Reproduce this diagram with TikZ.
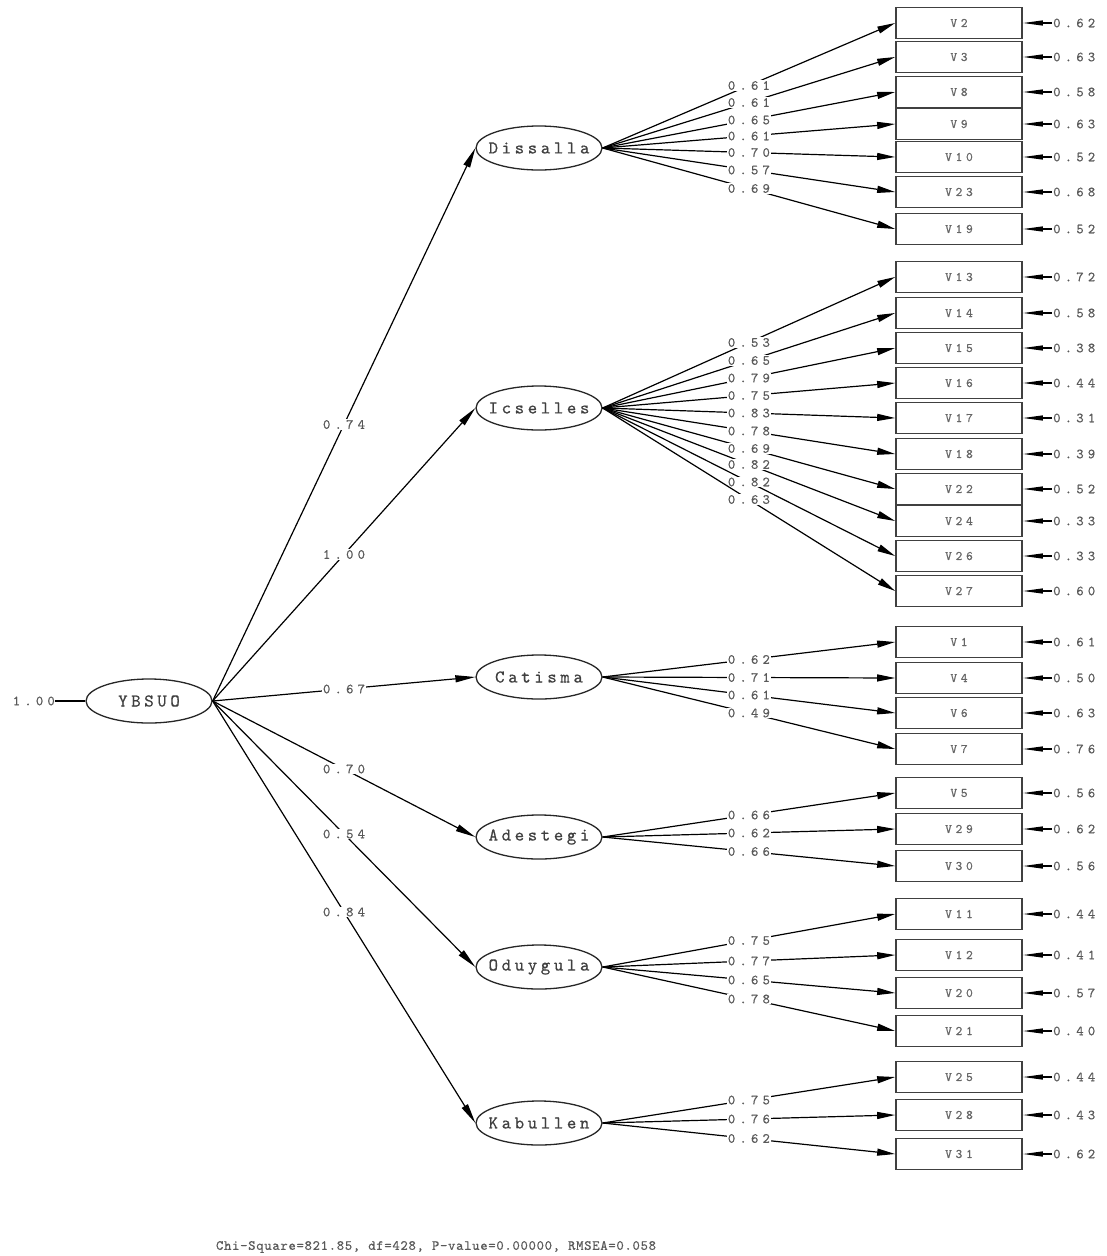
\documentclass[tikz,border=0pt]{standalone}
\usepackage{fontspec}
\usepackage{tikz}
\usetikzlibrary{shapes.geometric,arrows.meta,positioning}
\newfontfamily\coeffont[LetterSpace=30,FakeBold=0.5]{lmmono10-regular.otf}
\newfontfamily\boxfont[LetterSpace=28,FakeBold=0.5]{lmmono10-regular.otf}
\newfontfamily\latfont[LetterSpace=20,FakeBold=0.5]{lmmono10-regular.otf}
\newfontfamily\fitfont[LetterSpace=5,FakeBold=0.5]{lmmono10-regular.otf}
\newcommand{\lv}[1]{\makebox[0pt]{#1}}
\tikzset{
  latent/.style={ellipse, draw=black!85, line width=1.3pt, minimum width=126pt, minimum height=44pt, inner sep=0pt, text=black!75, font=\latfont\fontsize{18}{20}\selectfont},
  obs/.style={rectangle, draw=black!75, line width=1.7pt, minimum width=126pt, minimum height=31pt, inner sep=0pt, text=black!60, font=\boxfont\fontsize{13}{15}\selectfont},
  coef/.style={fill=white, inner sep=1pt, text=black!65, font=\coeffont\fontsize{14}{16}\selectfont},
  errlab/.style={coef, anchor=west},
  loadline/.style={line width=1.2pt, -{Triangle[length=18pt,width=7pt]}},
  errline/.style={line width=1.2pt, -{Triangle[length=20pt,width=5pt]}},
  fitnote/.style={text=black!65, font=\fitfont\fontsize{14}{16}\selectfont}
}
\begin{document}
\begin{tikzpicture}[x=1pt,y=-1pt]
\useasboundingbox (0,0) rectangle (1107,1256);
% second order factor
\node[latent] (yb) at (149,701) {\lv{YBSUO}};
\node[coef, anchor=east, inner xsep=0pt] (var) at (55,701) {1.00};
\draw[line width=1.2pt] (var.east) -- (yb.west);
% first order factors
\node[latent] (ds) at (539,148) {\lv{Dissalla}};
\node[latent] (ic) at (539,408) {\lv{Icselles}};
\node[latent] (ca) at (539,677) {\lv{Catisma}};
\node[latent] (ad) at (539,837) {\lv{Adestegi}};
\node[latent] (od) at (539,967) {\lv{Oduygula}};
\node[latent] (ka) at (539,1123) {\lv{Kabullen}};
\foreach \t/\l in {ds/0.74, ic/1.00, ca/0.67, ad/0.70, od/0.54, ka/0.84}
  \draw[loadline, -{Triangle[length=20pt,width=7pt]}] (yb.east) -- (\t.west) node[coef, pos=.5] {\l};
% Dissalla
\foreach \v/\y/\l/\e in {V2/23/0.61/0.62, V3/57/0.61/0.63, V8/92/0.65/0.58, V9/124/0.61/0.63, V10/157/0.70/0.52, V23/192/0.57/0.68, V19/229/0.69/0.52}{
  \node[obs] (\v) at (959,\y) {\v};
  \node[errlab] (e\v) at (1052,\y) {\e};
  \draw[errline] (e\v.west) -- (\v.east);
  \draw[loadline] (ds.east) -- (\v.west) node[coef, pos=.5] {\l};
}
% Icselles
\foreach \v/\y/\l/\e in {V13/277/0.53/0.72, V14/313/0.65/0.58, V15/348/0.79/0.38, V16/383/0.75/0.44, V17/418/0.83/0.31, V18/454/0.78/0.39, V22/489/0.69/0.52, V24/521/0.82/0.33, V26/556/0.82/0.33, V27/591/0.63/0.60}{
  \node[obs] (\v) at (959,\y) {\v};
  \node[errlab] (e\v) at (1052,\y) {\e};
  \draw[errline] (e\v.west) -- (\v.east);
  \draw[loadline] (ic.east) -- (\v.west) node[coef, pos=.5] {\l};
}
% Catisma
\foreach \v/\y/\l/\e in {V1/642/0.62/0.61, V4/678/0.71/0.50, V6/713/0.61/0.63, V7/749/0.49/0.76}{
  \node[obs] (\v) at (959,\y) {\v};
  \node[errlab] (e\v) at (1052,\y) {\e};
  \draw[errline] (e\v.west) -- (\v.east);
  \draw[loadline] (ca.east) -- (\v.west) node[coef, pos=.5] {\l};
}
% Adestegi
\foreach \v/\y/\l/\e in {V5/793/0.66/0.56, V29/829/0.62/0.62, V30/866/0.66/0.56}{
  \node[obs] (\v) at (959,\y) {\v};
  \node[errlab] (e\v) at (1052,\y) {\e};
  \draw[errline] (e\v.west) -- (\v.east);
  \draw[loadline] (ad.east) -- (\v.west) node[coef, pos=.5] {\l};
}
% Oduygula
\foreach \v/\y/\l/\e in {V11/914/0.75/0.44, V12/955/0.77/0.41, V20/993/0.65/0.57, V21/1031/0.78/0.40}{
  \node[obs] (\v) at (959,\y) {\v};
  \node[errlab] (e\v) at (1052,\y) {\e};
  \draw[errline] (e\v.west) -- (\v.east);
  \draw[loadline] (od.east) -- (\v.west) node[coef, pos=.5] {\l};
}
% Kabullen
\foreach \v/\y/\l/\e in {V25/1077/0.75/0.44, V28/1115/0.76/0.43, V31/1154/0.62/0.62}{
  \node[obs] (\v) at (959,\y) {\v};
  \node[errlab] (e\v) at (1052,\y) {\e};
  \draw[errline] (e\v.west) -- (\v.east);
  \draw[loadline] (ka.east) -- (\v.west) node[coef, pos=.5] {\l};
}
\node[fitnote] (fit) at (436,1247) {Chi-Square=821.85, df=428, P-value=0.00000, RMSEA=0.058};
\end{tikzpicture}
\end{document}
